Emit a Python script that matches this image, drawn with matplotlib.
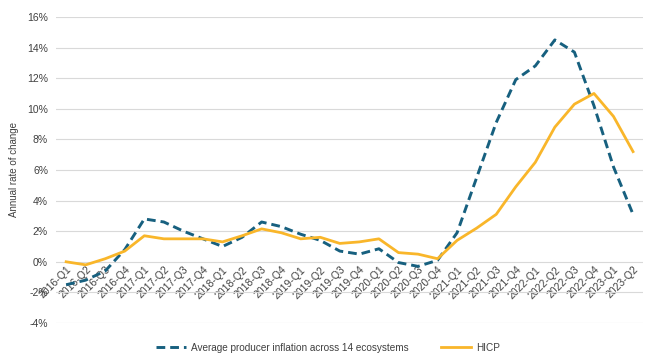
import numpy as np
import matplotlib.pyplot as plt

plt.rcParams['font.family'] = ['Liberation Sans', 'DejaVu Sans']

# Quarters 2016-Q1 .. 2023-Q2
quarters = [f"{y}-Q{q}" for y in range(2016, 2024) for q in range(1, 5)][:30]

# Average producer inflation across 14 ecosystems (annual rate, %)
producer = [-1.5, -1.2, -0.6, 0.8, 2.8, 2.6, 2.0, 1.5, 1.0, 1.6,
            2.6, 2.3, 1.8, 1.4, 0.7, 0.5, 0.85, -0.05, -0.3, 0.1,
            1.9, 5.5, 9.1, 11.9, 12.8, 14.5, 13.7, 10.2, 6.2, 3.1]

# HICP (annual rate, %)
hicp = [0.0, -0.2, 0.2, 0.7, 1.7, 1.5, 1.5, 1.5, 1.3, 1.7,
        2.15, 1.9, 1.5, 1.6, 1.2, 1.3, 1.5, 0.6, 0.5, 0.2,
        1.4, 2.2, 3.1, 4.9, 6.5, 8.8, 10.3, 11.0, 9.5, 7.2]

yticks = np.arange(-4, 17, 2)

fig, ax = plt.subplots(figsize=(6.48, 3.53), dpi=100)
fig.subplots_adjust(left=0.087, right=0.992, top=0.952, bottom=0.085)

x = np.arange(len(quarters))
ax.plot(x, producer, color='#17607f', linewidth=2.1, linestyle=(0, (3.0, 1.7)),
        label='Average producer inflation across 14 ecosystems')
ax.plot(x, hicp, color='#f9b62a', linewidth=2.0, label='HICP')

ax.set_xlim(-0.5, len(quarters) - 0.5)
ax.set_ylim(-4, 16)
ax.set_yticks(yticks)
ax.set_yticklabels([f"{v}%" for v in yticks], fontsize=7.5, color='#404040')
ax.yaxis.grid(True, color='#d9d9d9', linewidth=0.8)
ax.set_axisbelow(True)

# category axis crosses at zero
ax.spines['bottom'].set_position(('data', 0))
for s in ['top', 'right', 'left', 'bottom']:
    ax.spines[s].set_visible(False)
ax.set_xticks(x)
ax.set_xticklabels(quarters, rotation=45, ha='right', rotation_mode='anchor',
                   fontsize=7.5, color='#404040')
ax.tick_params(axis='both', length=0)
ax.tick_params(axis='x', pad=2)
ax.tick_params(axis='y', pad=6)

ax.set_ylabel('Annual rate of change', fontsize=7, color='#404040', labelpad=6)

ax.legend(loc='upper center', bbox_to_anchor=(0.463, -0.035), ncol=2, frameon=False,
          fontsize=7.2, handlelength=3.0, columnspacing=3.3, handletextpad=0.5,
          labelcolor='#404040')

fig.savefig('out.png', dpi=100)
